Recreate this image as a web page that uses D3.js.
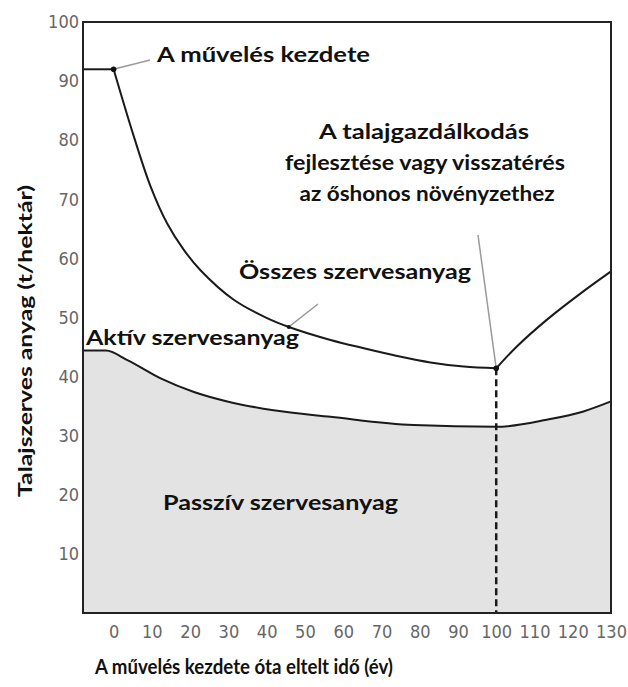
<!DOCTYPE html>
<html>
<head>
<meta charset="utf-8">
<script src="https://cdn.jsdelivr.net/npm/d3@7"></script>
<style>
  body { margin: 0; background: #fff; }
  .lbl { font-family: Lato, "Open Sans", sans-serif; font-weight: 700; fill: #111; }
  .tick text { font-family: "Liberation Sans Narrow", "DejaVu Sans Condensed", sans-serif; fill: #666; font-size: 18px; }
</style>
</head>
<body>
<div id="chart"></div>
<script>
// years since cultivation started / soil organic matter (t/ha)
var preYears = [-8, 0];
var preTotal = [92, 92];

var declineYears = [0, 5.3, 9.7, 14, 18.4, 22.7, 31.4, 40.1, 45.8, 56.7, 65.4, 74.1, 82.8, 91.5, 100];
var declineTotal = [92, 80.6, 72.1, 65.9, 61.4, 58, 53, 49.9, 48.4, 46.2, 44.8, 43.5, 42.4, 41.7, 41.4];

var recoveryYears = [100, 105.4, 113.2, 121.9, 130];
var recoveryTotal = [41.4, 45.1, 49.6, 54, 57.8];

var passiveYears = [-8, -2, 3.6, 12.3, 21, 29.7, 41.8, 56.7, 78.4, 100, 113.2, 122.8, 130];
var passiveValues = [44.4, 44.4, 42.8, 39.7, 37.4, 35.8, 34.3, 33.2, 31.8, 31.5, 32.7, 34.1, 35.8];

var xTicks = d3.range(0, 131, 10);
var yTicks = d3.range(10, 101, 10);

var svgWidth = 628, svgHeight = 687;

var svg = d3.select("#chart").append("svg")
  .attr("width", svgWidth)
  .attr("height", svgHeight);

svg.append("rect").attr("width", svgWidth).attr("height", svgHeight).attr("fill", "#fff");

var x = d3.scaleLinear().domain([-8, 130]).range([83, 611]);
var y = d3.scaleLinear().domain([0, 100]).range([613, 22]);

function zip(xs, ys) {
  return xs.map(function(d, i) { return { x: d, y: ys[i] }; });
}

// passive organic matter (grey area)
var area = d3.area()
  .x(function(d) { return x(d.x); })
  .y0(y(0))
  .y1(function(d) { return y(d.y); })
  .curve(d3.curveMonotoneX);

svg.append("path")
  .datum(zip(passiveYears, passiveValues))
  .attr("d", area)
  .attr("fill", "#e3e3e3");

var passiveLine = d3.line()
  .x(function(d) { return x(d.x); })
  .y(function(d) { return y(d.y); })
  .curve(d3.curveMonotoneX);

var line = d3.line()
  .x(function(d) { return x(d.x); })
  .y(function(d) { return y(d.y); })
  .curve(d3.curveCatmullRom.alpha(0.5));

svg.append("path")
  .datum(zip(passiveYears, passiveValues))
  .attr("d", passiveLine)
  .attr("fill", "none")
  .attr("stroke", "#1a1a1a")
  .attr("stroke-width", 2);

[zip(preYears, preTotal), zip(declineYears, declineTotal), zip(recoveryYears, recoveryTotal)].forEach(function(seg) {
  svg.append("path")
    .datum(seg)
    .attr("d", line)
    .attr("fill", "none")
    .attr("stroke", "#1a1a1a")
    .attr("stroke-width", 2);
});

// dashed line at year 100
svg.append("line")
  .attr("x1", x(100)).attr("x2", x(100))
  .attr("y1", y(declineTotal[declineTotal.length - 1]))
  .attr("y2", y(0))
  .attr("stroke", "#1a1a1a")
  .attr("stroke-width", 2.5)
  .attr("stroke-dasharray", "7,4");

// frame
svg.append("rect")
  .attr("x", x(-8)).attr("y", y(100))
  .attr("width", x(130) - x(-8))
  .attr("height", y(0) - y(100))
  .attr("fill", "none")
  .attr("stroke", "#222")
  .attr("stroke-width", 2);

// axes (labels only)
var xAxis = svg.append("g")
  .attr("transform", "translate(0," + y(0) + ")")
  .call(d3.axisBottom(x).tickValues(xTicks).tickSize(0).tickPadding(12));
xAxis.select(".domain").remove();

var yAxis = svg.append("g")
  .attr("transform", "translate(" + x(-8) + ",0)")
  .call(d3.axisLeft(y).tickValues(yTicks).tickSize(0).tickPadding(4));
yAxis.select(".domain").remove();

// leader lines
var leaders = [
  [x(0), y(92), 150, 60],
  [x(45.8), y(48.4), 318, 304],
  [x(100), y(41.4), 478, 235]
];
leaders.forEach(function(l) {
  svg.append("line")
    .attr("x1", l[0]).attr("y1", l[1]).attr("x2", l[2]).attr("y2", l[3])
    .attr("stroke", "#9a9a9a").attr("stroke-width", 1.5);
});

// dots
[[0, 92], [45.8, 48.4], [100, 41.4]].forEach(function(p, i) {
  svg.append("circle")
    .attr("cx", x(p[0])).attr("cy", y(p[1]))
    .attr("r", i === 1 ? 2 : 2.8)
    .attr("fill", "#111");
});

function label(text, px, py, size, len, anchor) {
  return svg.append("text")
    .attr("class", "lbl")
    .attr("x", px).attr("y", py)
    .attr("font-size", size)
    .attr("text-anchor", anchor || "start")
    .attr("textLength", len)
    .attr("lengthAdjust", "spacingAndGlyphs")
    .text(text);
}

label("A művelés kezdete", 157, 62, 21, 213);
label("A  talajgazdálkodás", 424, 139, 21, 210, "middle");
label("fejlesztése vagy visszatérés", 425, 170, 21, 280, "middle");
label("az őshonos  növényzethez", 427, 201, 21, 255, "middle");
label("Összes szervesanyag", 239, 279, 21, 232);
label("Aktív szervesanyag", 86, 345, 21, 213);
label("Passzív szervesanyag", 163, 510, 21, 235);

label("A művelés kezdete óta eltelt idő (év)", 244, 674, 21, 298, "middle");

svg.append("text")
  .attr("class", "lbl")
  .attr("transform", "translate(32,341) rotate(-90)")
  .attr("font-size", 19)
  .attr("text-anchor", "middle")
  .attr("textLength", 312)
  .attr("lengthAdjust", "spacingAndGlyphs")
  .text("Talajszerves anyag (t/hektár)");
</script>
</body>
</html>
